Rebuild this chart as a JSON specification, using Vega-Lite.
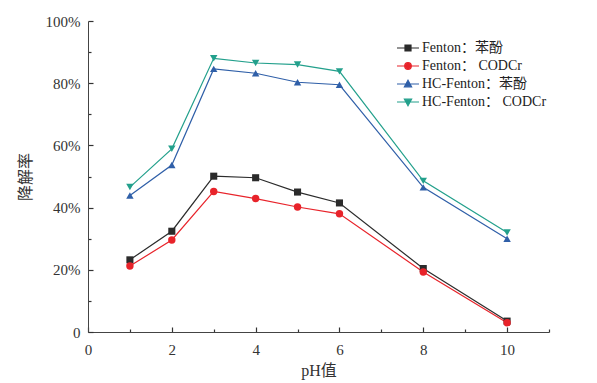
{
  "$schema": "https://vega.github.io/schema/vega-lite/v6.json",
  "autosize": "none",
  "width": 461,
  "height": 311,
  "padding": {"left": 88, "top": 21, "right": 48, "bottom": 51},
  "background": "white",
  "config": {
    "view": {"stroke": null},
    "font": "Liberation Serif, Noto Sans CJK SC",
    "axis": {"grid": false, "domainColor": "#444", "ticks": true, "tickColor": "#333", "tickWidth": 1.2, "labelColor": "#333", "titleColor": "#333", "labelFont": "Liberation Serif", "titleFont": "Liberation Serif, Noto Sans CJK SC", "labelFontSize": 15, "titleFontSize": 16, "titleFontWeight": "normal"}
  },
  "data": {"values": [
    {"ph": 1, "v": 23.2, "s": "Fenton：苯酚"},
    {"ph": 2, "v": 32.4, "s": "Fenton：苯酚"},
    {"ph": 3, "v": 50.1, "s": "Fenton：苯酚"},
    {"ph": 4, "v": 49.6, "s": "Fenton：苯酚"},
    {"ph": 5, "v": 45.0, "s": "Fenton：苯酚"},
    {"ph": 6, "v": 41.5, "s": "Fenton：苯酚"},
    {"ph": 8, "v": 20.4, "s": "Fenton：苯酚"},
    {"ph": 10, "v": 3.5, "s": "Fenton：苯酚"},
    {"ph": 1, "v": 21.2, "s": "Fenton： CODCr"},
    {"ph": 2, "v": 29.6, "s": "Fenton： CODCr"},
    {"ph": 3, "v": 45.2, "s": "Fenton： CODCr"},
    {"ph": 4, "v": 42.9, "s": "Fenton： CODCr"},
    {"ph": 5, "v": 40.2, "s": "Fenton： CODCr"},
    {"ph": 6, "v": 38.0, "s": "Fenton： CODCr"},
    {"ph": 8, "v": 19.3, "s": "Fenton： CODCr"},
    {"ph": 10, "v": 3.0, "s": "Fenton： CODCr"},
    {"ph": 1, "v": 43.9, "s": "HC-Fenton：苯酚"},
    {"ph": 2, "v": 53.7, "s": "HC-Fenton：苯酚"},
    {"ph": 3, "v": 84.6, "s": "HC-Fenton：苯酚"},
    {"ph": 4, "v": 83.2, "s": "HC-Fenton：苯酚"},
    {"ph": 5, "v": 80.3, "s": "HC-Fenton：苯酚"},
    {"ph": 6, "v": 79.5, "s": "HC-Fenton：苯酚"},
    {"ph": 8, "v": 46.5, "s": "HC-Fenton：苯酚"},
    {"ph": 10, "v": 30.0, "s": "HC-Fenton：苯酚"},
    {"ph": 1, "v": 46.6, "s": "HC-Fenton： CODCr"},
    {"ph": 2, "v": 58.9, "s": "HC-Fenton： CODCr"},
    {"ph": 3, "v": 88.0, "s": "HC-Fenton： CODCr"},
    {"ph": 4, "v": 86.5, "s": "HC-Fenton： CODCr"},
    {"ph": 5, "v": 86.0, "s": "HC-Fenton： CODCr"},
    {"ph": 6, "v": 83.8, "s": "HC-Fenton： CODCr"},
    {"ph": 8, "v": 48.6, "s": "HC-Fenton： CODCr"},
    {"ph": 10, "v": 32.0, "s": "HC-Fenton： CODCr"}
  ]},
  "encoding": {
    "x": {"field": "ph", "type": "quantitative", "title": "pH值",
      "scale": {"domain": [0, 11], "nice": false},
      "axis": {"values": [0,1,2,3,4,5,6,7,8,9,10,11], "labelExpr": "datum.value % 2 == 0 && datum.value <= 10 ? datum.label : ''",
        "tickSize": {"condition": {"test": "datum.value % 2 == 1", "value": -3}, "value": -5},
        "labelPadding": 15, "titlePadding": 5, "labelFlush": false}},
    "y": {"field": "v", "type": "quantitative", "title": "降解率",
      "scale": {"domain": [0, 100], "nice": false},
      "axis": {"values": [0,10,20,30,40,50,60,70,80,90,100], "labelExpr": "datum.value == 0 ? '0' : (datum.value % 20 == 0 ? datum.value + '%' : '')",
        "tickSize": {"condition": {"test": "datum.value % 20 == 10", "value": -3}, "value": -5},
        "labelPadding": 13, "titlePadding": 12, "labelFlush": false}},
    "color": {"field": "s", "type": "nominal", "title": null,
      "scale": {"domain": ["Fenton：苯酚", "Fenton： CODCr", "HC-Fenton：苯酚", "HC-Fenton： CODCr"], "range": ["#2b2b2b", "#e8232a", "#2f5fa8", "#23a08c"]},
      "legend": {"orient": "none", "legendX": 309, "legendY": 16, "labelFont": "Liberation Serif, Noto Sans CJK SC", "labelFontSize": 14, "labelColor": "#222", "symbolSize": 400, "rowPadding": -1.5, "labelOffset": 3,
        "encode": {"symbols": {"update": {
          "shape": {"signal": "datum.value == 'Fenton：苯酚' ? 'M-1.1,0H1.1M-0.3,-0.3H0.3V0.3H-0.3Z' : datum.value == 'Fenton： CODCr' ? 'M-1.1,0H1.1M0.33,0A0.33,0.33 0 1,1 -0.33,0A0.33,0.33 0 1,1 0.33,0Z' : datum.value == 'HC-Fenton：苯酚' ? 'M-1.1,0H1.1M0,-0.38L0.36,0.28H-0.36Z' : 'M-1.1,0H1.1M0,0.38L0.36,-0.28H-0.36Z'"},
          "fill": {"scale": "color", "field": "value"},
          "stroke": {"scale": "color", "field": "value"},
          "strokeWidth": {"value": 1.2},
          "opacity": {"value": 1}
        }}}}
    }
  },
  "layer": [
    {"mark": {"type": "line", "strokeWidth": 1.2}},
    {"transform": [{"filter": "datum.s == 'Fenton：苯酚'"}], "mark": {"type": "point", "shape": "square", "filled": true, "opacity": 1, "size": 50}},
    {"transform": [{"filter": "datum.s == 'Fenton： CODCr'"}], "mark": {"type": "point", "shape": "circle", "filled": true, "opacity": 1, "size": 55}},
    {"transform": [{"filter": "datum.s == 'HC-Fenton：苯酚'"}], "mark": {"type": "point", "shape": "triangle-up", "filled": true, "opacity": 1, "size": 55}},
    {"transform": [{"filter": "datum.s == 'HC-Fenton： CODCr'"}], "mark": {"type": "point", "shape": "triangle-down", "filled": true, "opacity": 1, "size": 55}}
  ]
}
